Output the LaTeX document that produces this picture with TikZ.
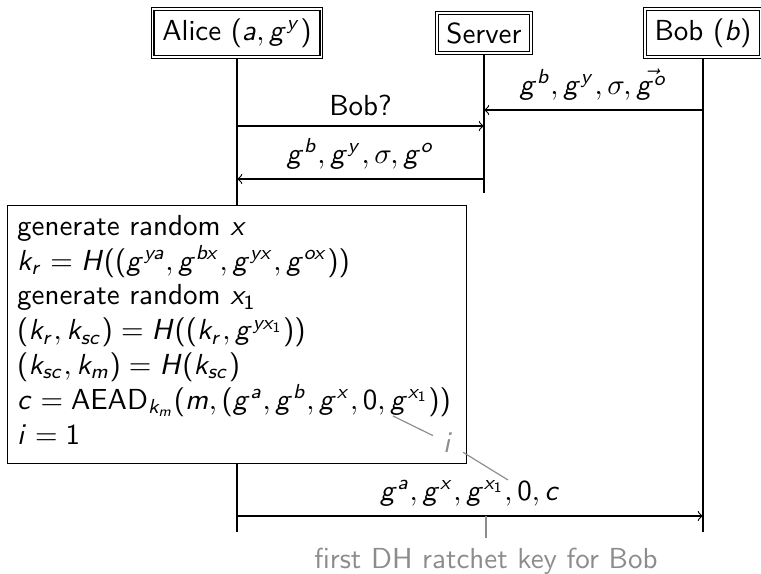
\documentclass[tikz,border=0pt]{standalone}
\renewcommand{\familydefault}{\sfdefault}
\SetSymbolFont{operators}{normal}{OT1}{cmss}{m}{n}
\DeclareSymbolFont{sfit}{OT1}{cmss}{m}{sl}
\DeclareMathSymbol{a}{\mathalpha}{sfit}{`a}
\DeclareMathSymbol{b}{\mathalpha}{sfit}{`b}
\DeclareMathSymbol{c}{\mathalpha}{sfit}{`c}
\DeclareMathSymbol{g}{\mathalpha}{sfit}{`g}
\DeclareMathSymbol{i}{\mathalpha}{sfit}{`i}
\DeclareMathSymbol{k}{\mathalpha}{sfit}{`k}
\DeclareMathSymbol{m}{\mathalpha}{sfit}{`m}
\DeclareMathSymbol{o}{\mathalpha}{sfit}{`o}
\DeclareMathSymbol{r}{\mathalpha}{sfit}{`r}
\DeclareMathSymbol{s}{\mathalpha}{sfit}{`s}
\DeclareMathSymbol{x}{\mathalpha}{sfit}{`x}
\DeclareMathSymbol{y}{\mathalpha}{sfit}{`y}
\DeclareMathSymbol{H}{\mathalpha}{sfit}{`H}
\usetikzlibrary{arrows}
\tikzset{
  hdr/.style={draw, double, inner sep=3.33pt},
  life/.style={draw, line width=0.4pt},
  msg/.style={->, line width=0.4pt},
  procbox/.style={draw, fill=white, align=left, inner sep=3.33pt, anchor=north west},
  annot/.style={draw=black!45, line width=0.4pt},
  annotext/.style={text=black!45, inner sep=3.33pt}
}
\begin{document}
\begin{tikzpicture}[x=0.345pt, y=-0.345pt]
\useasboundingbox (0,0) rectangle (761,574);
% headers
\node[hdr] (alice) at (237,33) {Alice $(a, g^y)$};
\node[hdr] (server) at (484,33) {Server};
\node[hdr] (bob) at (703,33) {Bob $(b)$};
% lifeline ends
\coordinate (aend) at (237,532);
\coordinate (send) at (484,193);
\coordinate (bend) at (703,532);
\draw[life] (alice) -- (aend);
\draw[life] (server) -- (send);
\draw[life] (bob) -- (bend);
% message points
\coordinate (b1) at (703,110);
\coordinate (s1) at (484,110);
\coordinate (a2) at (237,126);
\coordinate (s2) at (484,126);
\coordinate (s3) at (484,179);
\coordinate (a3) at (237,179);
\coordinate (a5) at (237,516);
\coordinate (b5) at (703,516);
\draw[msg] (b1) -- node[above] {$g^b, g^y, \sigma, \vec{g^o}$} (s1);
\draw[msg] (a2) -- node[above] {Bob?} (s2);
\draw[msg] (s3) -- node[above] {$g^b, g^y, \sigma, g^o$} (a3);
% process box
\node[procbox] (proc) at (7,205) {generate random $x$\\
$k_r = H((g^{ya}, g^{bx}, g^{yx}, g^{ox}))$\\
generate random $x_1$\\
$(k_r, k_{sc}) = H((k_r, g^{yx_1}))$\\
$(k_{sc}, k_m) = H(k_{sc})$\\
$c = \mathrm{AEAD}_{k_m}(m, (g^a, g^b, g^x, 0, g^{x_1}))$\kern2pt\\
$i = 1$\rule[-3.4pt]{0pt}{3pt}};
\draw[msg] (a5) -- node[above] (m5) {$g^a, g^x, g^{x_1}, 0, c$} (b5);
% annotations
\coordinate (gx1a) at (393,416);
\coordinate (gx1b) at (508,480);
\coordinate (m5mid) at (486,516);
\node[annotext] (inode) at (448,443) {$i$};
\draw[annot] (inode) -- (gx1a);
\draw[annot] (inode) -- (gx1b);
\node[annotext, anchor=north] (fdh) at (486,538) {first DH ratchet key for Bob};
\draw[annot] (fdh) -- (m5mid);
\end{tikzpicture}
\end{document}
